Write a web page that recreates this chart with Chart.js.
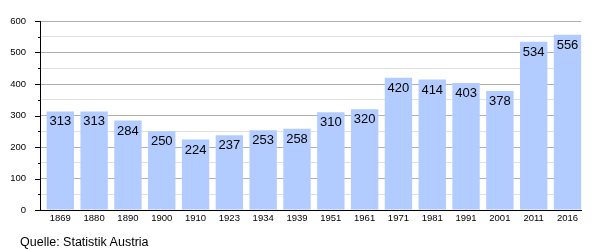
<!DOCTYPE html>
<html><head><meta charset="utf-8">
<script src="https://cdn.jsdelivr.net/npm/chart.js@4/dist/chart.umd.min.js"></script>
<style>
html,body{margin:0;padding:0;background:#fff;}
#wrap{position:relative;width:600px;height:250px;}
#src{position:absolute;left:20px;top:236px;font:12.5px/12.5px "Liberation Sans",Arial,sans-serif;color:#000;white-space:nowrap;}
</style></head>
<body>
<div id="wrap"><canvas id="c" width="600" height="250"></canvas><div id="src">Quelle: Statistik Austria</div></div>
<script>
const years = ["1869","1880","1890","1900","1910","1923","1934","1939","1951","1961","1971","1981","1991","2001","2011","2016"];
const population = [313,313,284,250,224,237,253,258,310,320,420,414,403,378,534,556];
const yMax = 600;
const yStep = 50;
const yLabelStep = 100;

const FONT = '"Liberation Sans", Arial, sans-serif';
const NARROW = '"Liberation Sans Narrow", "Arial Narrow", "Liberation Sans", sans-serif';
const SHIFT = 3.4;

const shiftPlugin = {
  id: 'shift',
  beforeDatasetsDraw(chart) { chart.ctx.save(); chart.ctx.translate(SHIFT, 0); },
  afterDatasetsDraw(chart) {
    const ctx = chart.ctx;
    const meta = chart.getDatasetMeta(0);
    ctx.font = '13px ' + FONT;
    ctx.fillStyle = '#000';
    ctx.textAlign = 'center';
    ctx.textBaseline = 'middle';
    meta.data.forEach((bar, i) => {
      ctx.fillText(String(population[i]), bar.x, bar.y + 10.5);
    });
    ctx.restore();
  }
};

const tickPlugin = {
  id: 'yticks',
  afterDraw(chart) {
    const ctx = chart.ctx;
    const y = chart.scales.y;
    ctx.save();
    ctx.strokeStyle = '#000';
    ctx.lineWidth = 1;
    y.ticks.forEach(t => {
      const py = Math.round(y.getPixelForValue(t.value)) + 0.5;
      const len = (t.value % yLabelStep === 0) ? 5 : 2;
      ctx.beginPath();
      ctx.moveTo(y.right - len, py);
      ctx.lineTo(y.right, py);
      ctx.stroke();
    });
    ctx.restore();
  }
};

new Chart(document.getElementById('c'), {
  type: 'bar',
  data: {
    labels: years,
    datasets: [{
      data: population,
      backgroundColor: '#b3ccff',
      borderWidth: 0,
      barPercentage: 0.81,
      categoryPercentage: 1.0
    }]
  },
  options: {
    responsive: false,
    animation: false,
    events: [],
    layout: { padding: { top: 21, right: 19, left: 0, bottom: 0 } },
    plugins: { legend: { display: false }, tooltip: { enabled: false } },
    scales: {
      x: {
        grid: { display: false, drawTicks: false },
        border: { display: true, color: '#000', width: 1 },
        ticks: { font: { family: NARROW, size: 9.5 }, color: '#000', padding: 3, labelOffset: SHIFT, maxRotation: 0, autoSkip: false },
        afterFit(s) { s.height = 40; }
      },
      y: {
        min: 0, max: yMax,
        grid: {
          drawTicks: false,
          color: ctx => (ctx.tick && ctx.tick.value % yLabelStep === 0) ? '#b0b0b0' : '#e0e0e0',
          lineWidth: 1
        },
        border: { display: true, color: '#000', width: 1 },
        ticks: {
          stepSize: yStep,
          autoSkip: false,
          font: { family: FONT, size: 9.5 },
          color: '#000',
          padding: 14,
          callback: v => (v % yLabelStep === 0) ? String(v) : ''
        },
        afterFit(s) { s.width = 40; }
      }
    }
  },
  plugins: [shiftPlugin, tickPlugin]
});
</script>
</body></html>
